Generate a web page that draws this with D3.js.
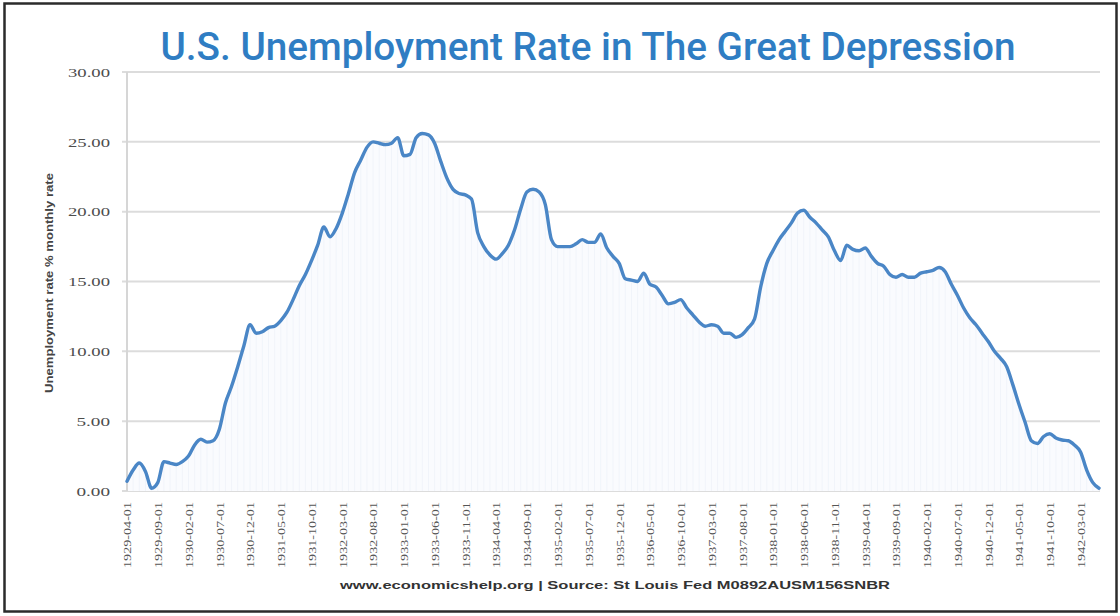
<!DOCTYPE html>
<html>
<head>
<meta charset="utf-8">
<script src="https://cdn.jsdelivr.net/npm/d3@7"></script>
<style>
  html, body { margin: 0; padding: 0; background: #fff; }
  svg { display: block; }
</style>
</head>
<body>
<svg id="chart" width="1120" height="616"></svg>
<script>
// Monthly U.S. unemployment rate (%), April 1929 – June 1942 (NBER series via FRED)
const firstMonth = new Date(1929, 3, 1);
const monthCount = 159;
const rate = [
  0.7, 1.5, 2.0, 1.4, 0.2, 0.6, 2.1, 2.0, 1.9, 2.1,
  2.5, 3.3, 3.7, 3.5, 3.6, 4.4, 6.3, 7.5, 8.9, 10.4,
  11.9, 11.3, 11.4, 11.7, 11.8, 12.2, 12.8, 13.7, 14.7, 15.5,
  16.5, 17.6, 18.9, 18.2, 18.8, 19.9, 21.3, 22.8, 23.7, 24.6,
  25.0, 24.9, 24.8, 24.9, 25.3, 24.0, 24.1, 25.3, 25.6, 25.5,
  24.9, 23.6, 22.4, 21.6, 21.3, 21.2, 20.9, 18.5, 17.5, 16.9,
  16.6, 17.0, 17.6, 18.7, 20.2, 21.4, 21.6, 21.4, 20.5, 18.0,
  17.5, 17.5, 17.5, 17.7, 18.0, 17.8, 17.8, 18.4, 17.4, 16.8,
  16.3, 15.2, 15.1, 15.0, 15.6, 14.8, 14.6, 14.0, 13.4, 13.5,
  13.7, 13.1, 12.6, 12.1, 11.8, 11.9, 11.8, 11.3, 11.3, 11.0,
  11.2, 11.7, 12.3, 14.6, 16.3, 17.2, 18.0, 18.6, 19.2, 19.9,
  20.1, 19.6, 19.2, 18.7, 18.2, 17.2, 16.5, 17.6, 17.3, 17.2,
  17.4, 16.8, 16.3, 16.1, 15.5, 15.3, 15.5, 15.3, 15.3, 15.6,
  15.7, 15.8, 16.0, 15.7, 14.8, 14.0, 13.1, 12.4, 11.9, 11.3,
  10.7, 10.0, 9.5, 8.9, 7.6, 6.2, 4.9, 3.6, 3.4, 3.9,
  4.1, 3.8, 3.65, 3.6, 3.3, 2.8, 1.5, 0.6, 0.2
];

// Category axis labels, one every five months
const tickLabels = [
  "1929-04-01", "1929-09-01", "1930-02-01", "1930-07-01", "1930-12-01",
  "1931-05-01", "1931-10-01", "1932-03-01", "1932-08-01", "1933-01-01",
  "1933-06-01", "1933-11-01", "1934-04-01", "1934-09-01", "1935-02-01",
  "1935-07-01", "1935-12-01", "1936-05-01", "1936-10-01", "1937-03-01",
  "1937-08-01", "1938-01-01", "1938-06-01", "1938-11-01", "1939-04-01",
  "1939-09-01", "1940-02-01", "1940-07-01", "1940-12-01", "1941-05-01",
  "1941-10-01", "1942-03-01"
];
const yTicks = [0, 5, 10, 15, 20, 25, 30];

const titleText = "U.S. Unemployment Rate in The Great Depression";
const yAxisTitle = "Unemployment rate % monthly rate";
const sourceText = "www.economicshelp.org | Source: St Louis Fed M0892AUSM156SNBR";

const fmt = d3.timeFormat("%Y-%m-%d");
const months = d3.range(monthCount).map(i => fmt(d3.timeMonth.offset(firstMonth, i)));
const data = months.map((m, i) => ({ month: m, value: rate[i] }));

const svg = d3.select("#chart");
const W = 1120, H = 616;
const plot = { left: 127, right: 1099, top: 72, bottom: 491 };

svg.append("rect").attr("width", W).attr("height", H).attr("fill", "#fff");

// outer frame
svg.append("rect")
  .attr("x", 4.5).attr("y", 3.5)
  .attr("width", 1112).attr("height", 608)
  .attr("fill", "none").attr("stroke", "#2b2b2b").attr("stroke-width", 2.5);

const x = d3.scalePoint().domain(months).range([plot.left, plot.right]);
const y = d3.scaleLinear().domain([0, 30]).range([plot.bottom, plot.top]);

// title
svg.append("text")
  .attr("x", 588).attr("y", 60)
  .attr("text-anchor", "middle")
  .attr("font-family", "Roboto, 'Open Sans', sans-serif")
  .attr("font-weight", 500)
  .attr("font-size", 38)
  .attr("fill", "#2f7dc3")
  .attr("textLength", 855)
  .attr("lengthAdjust", "spacingAndGlyphs")
  .text(titleText);

// horizontal gridlines
svg.append("g")
  .selectAll("line")
  .data(yTicks)
  .join("line")
  .attr("x1", plot.left - 5).attr("x2", plot.right + 1)
  .attr("y1", d => y(d)).attr("y2", d => y(d))
  .attr("stroke", "#dcdcdc").attr("stroke-width", 2);

// faint fill and monthly drop lines under the curve
svg.append("path")
  .datum(data)
  .attr("fill", "#fafbfe")
  .attr("d", d3.area()
    .x(d => x(d.month)).y0(y(0)).y1(d => y(d.value))
    .curve(d3.curveMonotoneX));

svg.append("g")
  .selectAll("line")
  .data(data)
  .join("line")
  .attr("x1", d => x(d.month)).attr("x2", d => x(d.month))
  .attr("y1", y(0)).attr("y2", d => y(d.value))
  .attr("stroke", "#f1f4fa").attr("stroke-width", 1);

// vertical value axis line
svg.append("line")
  .attr("x1", plot.left).attr("x2", plot.left)
  .attr("y1", plot.top).attr("y2", plot.bottom)
  .attr("stroke", "#d6d6d6").attr("stroke-width", 2);

// y tick labels
const yAxis = d3.axisLeft(y).tickValues(yTicks).tickFormat(d3.format(".2f")).tickSize(0).tickPadding(0);
const gy = svg.append("g").attr("transform", `translate(110,0)`).call(yAxis);
gy.select(".domain").remove();
gy.selectAll("text")
  .attr("font-family", "'Liberation Serif', serif")
  .attr("font-size", 12)
  .attr("fill", "#4d4d4d")
  .attr("dy", "0.35em")
  .attr("textLength", function () { return this.textContent.length * 8.4; })
  .attr("lengthAdjust", "spacingAndGlyphs");

// y axis title
svg.append("text")
  .attr("transform", "translate(53,283) rotate(-90)")
  .attr("text-anchor", "middle")
  .attr("font-family", "'Liberation Sans', Arial, sans-serif")
  .attr("font-weight", "bold")
  .attr("font-size", 10)
  .attr("fill", "#444")
  .attr("textLength", 220)
  .attr("lengthAdjust", "spacingAndGlyphs")
  .text(yAxisTitle);

// category axis with rotated date labels
const xAxis = d3.axisBottom(x).tickValues(tickLabels).tickSize(0).tickPadding(0);
const gx = svg.append("g").attr("transform", `translate(0,${plot.bottom})`).call(xAxis);
gx.select(".domain").remove();
gx.selectAll("text")
  .attr("font-family", "'Liberation Serif', serif")
  .attr("font-size", 11)
  .attr("fill", "#555")
  .attr("text-anchor", "end")
  .attr("dy", "0.35em")
  .attr("transform", "translate(0,11) rotate(-90)")
  .attr("y", 0).attr("x", 0)
  .attr("textLength", 66)
  .attr("lengthAdjust", "spacingAndGlyphs");

// unemployment rate line
svg.append("path")
  .datum(data)
  .attr("fill", "none")
  .attr("stroke", "#4a86c6")
  .attr("stroke-width", 3.4)
  .attr("stroke-linejoin", "round")
  .attr("stroke-linecap", "round")
  .attr("d", d3.line()
    .x(d => x(d.month)).y(d => y(d.value))
    .curve(d3.curveMonotoneX));

// source note
svg.append("text")
  .attr("x", 615).attr("y", 589)
  .attr("text-anchor", "middle")
  .attr("font-family", "'Liberation Sans', Arial, sans-serif")
  .attr("font-weight", "bold")
  .attr("font-size", 11)
  .attr("fill", "#333")
  .attr("textLength", 550)
  .attr("lengthAdjust", "spacingAndGlyphs")
  .text(sourceText);
</script>
</body>
</html>
